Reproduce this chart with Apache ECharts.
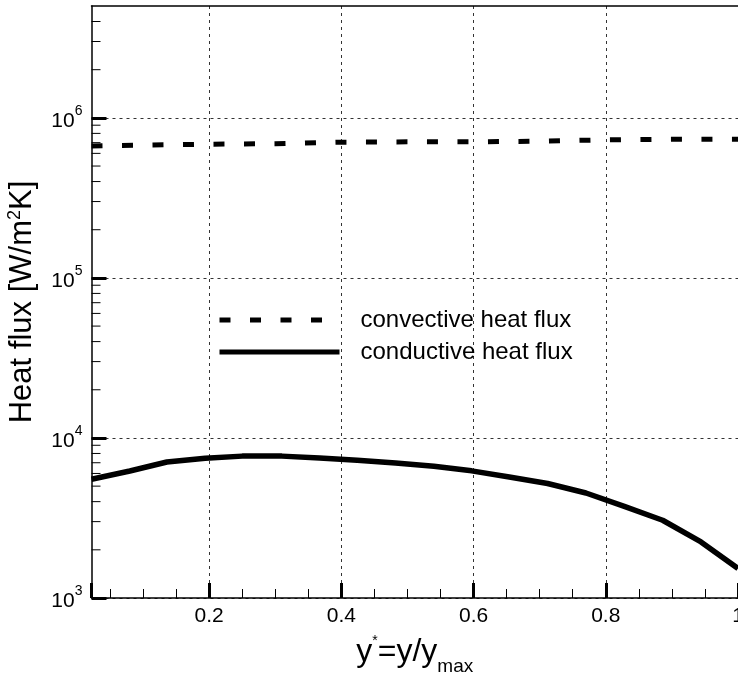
<!DOCTYPE html>
<html>
<head>
<meta charset="utf-8">
<script src="https://cdn.jsdelivr.net/npm/echarts@6/dist/echarts.min.js"></script>
<style>
html, body { margin: 0; padding: 0; background: #fff; }
#Chart { width: 738px; height: 679px; }
</style>
</head>
<body>
<div id="Chart"></div>
<script>
// convective heat flux (dashed)
var convX = [0.022, 0.1, 0.2, 0.3, 0.4, 0.5, 0.6, 0.7, 0.8, 0.9, 1.0];
var convY = [668000, 675000, 685000, 690000, 705000, 708000, 708000, 715000, 729000, 736000, 736000];
// conductive heat flux (solid)
var condX = [0.022, 0.08, 0.136, 0.194, 0.25, 0.31, 0.367, 0.424, 0.482, 0.54, 0.597, 0.654, 0.712, 0.77, 0.828, 0.886, 0.944, 1.0];
var condY = [5520, 6220, 7080, 7460, 7700, 7700, 7500, 7260, 6980, 6660, 6230, 5700, 5190, 4530, 3740, 3060, 2240, 1530];
// y axis minor ticks (log decades)
var yMinorTicks = [2000, 3000, 4000, 5000, 6000, 7000, 8000, 9000,
    20000, 30000, 40000, 50000, 60000, 70000, 80000, 90000,
    200000, 300000, 400000, 500000, 600000, 700000, 800000, 900000,
    2000000, 3000000, 4000000];
var xMin = 0.022, xMax = 1;
var yMin = 1000, yMax = 5000000;
var font = "'Liberation Sans', Arial, sans-serif";

function zip(a, b) {
    var out = [];
    for (var i = 0; i < a.length; i++) {
        out.push([a[i], b[i]]);
    }
    return out;
}

var myChart = echarts.init(document.getElementById("Chart"));
var option = {
    animation: false,
    grid: {
        left: 91.5,
        top: 6,
        right: 0,
        bottom: 81,
        containLabel: false,
        outerBoundsMode: 'none'
    },
    legend: {
        orient: 'vertical',
        left: 217,
        top: 308,
        padding: 0,
        itemWidth: 120,
        itemHeight: 14,
        itemGap: 8,
        data: ['convective heat flux', 'conductive heat flux'],
        lineStyle: { width: 5 },
        itemStyle: { opacity: 0 },
        textStyle: {
            fontFamily: font,
            fontSize: 24,
            color: '#000',
            lineHeight: 24,
            padding: [0, 0, 0, 16]
        }
    },
    xAxis: [{
        type: 'value',
        min: xMin,
        max: xMax,
        splitNumber: 5,
        name: '{a|y}{s|*}{a|=y/y}{m|max}',
        nameLocation: 'middle',
        nameGap: 36,
        nameTextStyle: {
            rich: {
                a: { fontFamily: font, fontSize: 32, color: '#000', lineHeight: 36, verticalAlign: 'middle' },
                s: { fontFamily: font, fontSize: 14, color: '#000', lineHeight: 14, verticalAlign: 'top' },
                m: { fontFamily: font, fontSize: 19, color: '#000', lineHeight: 19, verticalAlign: 'bottom', padding: [0, 0, -6, 0] }
            }
        },
        axisLine: { show: true, onZero: false, lineStyle: { color: '#000', width: 1.5 } },
        axisTick: { show: true, inside: true, length: 15, lineStyle: { color: '#000', width: 3 } },
        minorTick: { show: true, splitNumber: 4, length: 9, lineStyle: { color: '#000', width: 1 } },
        axisLabel: {
            showMinLabel: false,
            margin: 8,
            fontFamily: font,
            fontSize: 21,
            color: '#000'
        },
        splitLine: {
            show: true,
            showMinLine: false,
            showMaxLine: false,
            lineStyle: { color: '#333', width: 1, type: [3, 4] }
        }
    }, {
        type: 'value',
        position: 'top',
        min: xMin,
        max: xMax,
        axisLine: { show: true, onZero: false, lineStyle: { color: '#000', width: 1.5 } },
        axisTick: { show: false },
        axisLabel: { show: false },
        splitLine: { show: false }
    }],
    yAxis: [{
        type: 'log',
        logBase: 10,
        min: yMin,
        max: yMax,
        name: 'Heat flux [W/m{s|2}K]',
        nameLocation: 'middle',
        nameGap: 54,
        nameTextStyle: {
            fontFamily: font,
            fontSize: 31,
            color: '#000',
            rich: {
                s: { fontFamily: font, fontSize: 18, color: '#000', verticalAlign: 'top', lineHeight: 18 }
            }
        },
        axisLine: { show: true, onZero: false, lineStyle: { color: '#000', width: 1.5 } },
        axisTick: { show: true, inside: true, length: 15, lineStyle: { color: '#000', width: 3 } },
        minorTick: { show: false },
        axisLabel: {
            showMaxLabel: false,
            margin: 9,
            formatter: function (v) {
                var e = Math.round(Math.log(v) / Math.LN10);
                return '{b|10}{e|' + e + '}';
            },
            rich: {
                b: { fontFamily: font, fontSize: 21, color: '#000', lineHeight: 27, verticalAlign: 'bottom' },
                e: { fontFamily: font, fontSize: 14, color: '#000', lineHeight: 14, verticalAlign: 'top' }
            }
        },
        splitLine: {
            show: true,
            showMinLine: false,
            showMaxLine: false,
            lineStyle: { color: '#333', width: 1, type: [3, 4] }
        }
    }, {
        type: 'log',
        position: 'right',
        min: yMin,
        max: yMax,
        axisLine: { show: true, onZero: false, lineStyle: { color: '#888', width: 1 } },
        axisTick: { show: false },
        axisLabel: { show: false },
        splitLine: { show: false }
    }],
    series: [
        {
            name: 'convective heat flux',
            type: 'line',
            data: zip(convX, convY),
            symbol: 'none',
            lineStyle: { color: '#000', width: 5, type: [11, 19.5], cap: 'butt' },
            itemStyle: { color: '#000' },
            z: 3
        },
        {
            name: 'conductive heat flux',
            type: 'line',
            data: zip(condX, condY),
            symbol: 'none',
            lineStyle: { color: '#000', width: 5.5 },
            itemStyle: { color: '#000' },
            z: 3
        },
        {
            name: 'yMinor',
            type: 'custom',
            data: yMinorTicks.map(function (v) { return [xMin, v]; }),
            silent: true,
            z: 4,
            renderItem: function (params, api) {
                var p = api.coord([api.value(0), api.value(1)]);
                return {
                    type: 'line',
                    shape: { x1: p[0], y1: p[1], x2: p[0] + 9, y2: p[1] },
                    style: { stroke: '#000', lineWidth: 1 }
                };
            }
        }
    ]
};
myChart.setOption(option);
window.addEventListener("resize", function () {
    myChart.resize();
});
</script>
</body>
</html>
